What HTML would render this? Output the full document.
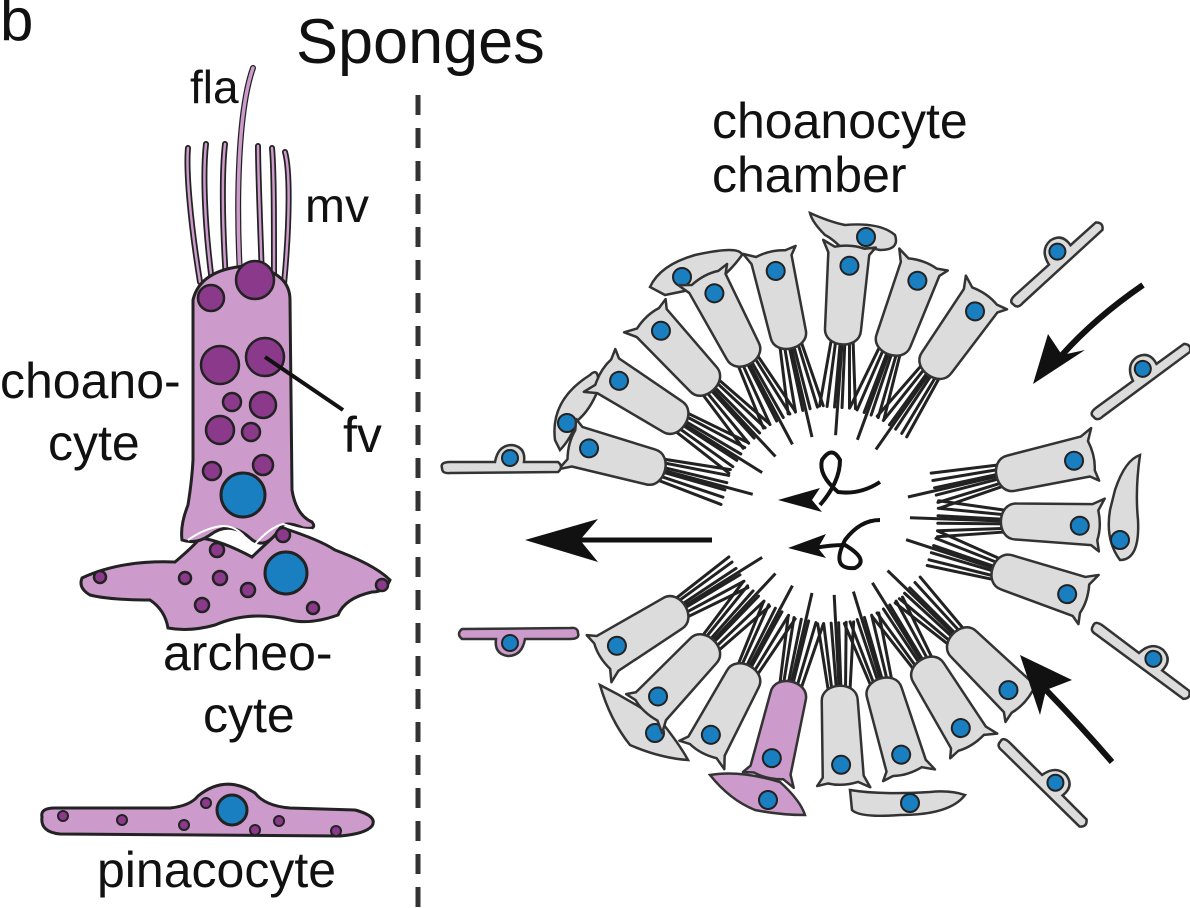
<!DOCTYPE html>
<html><head><meta charset="utf-8"><style>
html,body{margin:0;padding:0;background:#fff;}
svg{display:block;}
text{font-family:"Liberation Sans",sans-serif;fill:#111;}
</style></head><body>
<svg id="s" width="1190" height="908" viewBox="0 0 1190 908">
<text x="0" y="40" font-size="60">b</text>
<text x="296" y="63" font-size="63">Sponges</text>
<line x1="418" y1="95" x2="418" y2="908" stroke="#333" stroke-width="5" stroke-dasharray="20,13"/>

<g>
 <g stroke-linecap="round" fill="none">
  <g stroke="#222" stroke-width="6">
   <path d="M200,282 C190,220 186,170 188,148"/><path d="M212,282 C204,220 203,170 206,144"/><path d="M226,280 C222,220 222,170 225,144"/>
   <path d="M262,278 C260,220 258,170 258,146"/><path d="M274,280 C274,220 274,170 272,148"/><path d="M284,284 C290,220 290,170 285,152"/>
   <path d="M240,275 C236,200 238,110 253,68"/>
  </g>
  <g stroke="#cc9acb" stroke-width="2.5">
   <path d="M200,282 C190,220 186,170 188,148"/><path d="M212,282 C204,220 203,170 206,144"/><path d="M226,280 C222,220 222,170 225,144"/>
   <path d="M262,278 C260,220 258,170 258,146"/><path d="M274,280 C274,220 274,170 272,148"/><path d="M284,284 C290,220 290,170 285,152"/>
  </g>
  <path d="M240,275 C236,200 238,110 253,68" stroke="#cc9acb" stroke-width="3.5"/>
 </g>
 <path d="M82,578 Q120,560 175,562 Q195,545 200,538 Q220,540 252,557 Q270,540 283,528 Q320,540 335,550 Q375,565 390,580 Q385,592 372,592 Q345,598 338,615 Q310,625 290,620 Q250,610 215,625 Q190,632 168,628 Q165,610 150,600 Q110,600 90,595 Q78,588 82,578Z" fill="#cc9acb" stroke="#222" stroke-width="3"/>
 <path d="M193,300 Q200,270 245,266 Q290,270 290,300 L292,490 Q296,515 312,522 Q318,530 303,528 Q285,520 280,528 Q265,552 250,538 Q230,520 210,535 Q196,545 182,540 Q180,525 188,505 Q192,480 193,460Z" fill="#cc9acb" stroke="#222" stroke-width="3"/>
 <path d="M188,540 Q205,528 222,526 Q240,525 252,548 Q268,528 283,524 Q300,530 312,530" fill="none" stroke="#fff" stroke-width="2"/>
 <g fill="#8b3a8b" stroke="#222" stroke-width="2.5">
  <circle cx="255" cy="280" r="19"/><circle cx="211" cy="298" r="13"/><circle cx="220" cy="365" r="19"/><circle cx="265" cy="357" r="19"/>
  <circle cx="232" cy="402" r="9"/><circle cx="263" cy="405" r="13"/><circle cx="220" cy="430" r="14"/><circle cx="251" cy="432" r="9"/>
  <circle cx="212" cy="471" r="9"/><circle cx="263" cy="465" r="10"/>
  <circle cx="283" cy="535" r="7"/><circle cx="217" cy="550" r="7"/><circle cx="185" cy="578" r="6"/><circle cx="220" cy="578" r="7"/>
  <circle cx="248" cy="590" r="7"/><circle cx="202" cy="605" r="7"/><circle cx="313" cy="608" r="6"/><circle cx="100" cy="577" r="6"/><circle cx="382" cy="585" r="6"/>
 </g>
 <circle cx="243" cy="495" r="22" fill="#1a7fc1" stroke="#222" stroke-width="3"/>
 <circle cx="286" cy="573" r="21" fill="#1a7fc1" stroke="#222" stroke-width="3"/>
 <line x1="265" y1="357" x2="343" y2="410" stroke="#111" stroke-width="4"/>
 <path d="M42,817 Q40,808 55,808 L170,808 Q190,806 198,796 Q225,774 255,793 Q265,806 290,808 L355,810 Q378,816 372,826 Q365,834 340,836 L60,834 Q40,832 42,817Z" fill="#cc9acb" stroke="#222" stroke-width="3"/>
 <g fill="#8b3a8b" stroke="#222" stroke-width="2"><circle cx="63" cy="816" r="5"/><circle cx="122" cy="820" r="5"/><circle cx="184" cy="825" r="5"/><circle cx="206" cy="803" r="5"/><circle cx="255" cy="830" r="5"/><circle cx="279" cy="821" r="5"/><circle cx="336" cy="831" r="5"/></g>
 <circle cx="232" cy="810" r="15" fill="#1a7fc1" stroke="#222" stroke-width="3"/>
</g>

<text x="190" y="103" font-size="46">fla</text>
<text x="305" y="222" font-size="48">mv</text>
<text x="0" y="398" font-size="50">choano-</text>
<text x="48" y="460" font-size="50">cyte</text>
<text x="343" y="452" font-size="50">fv</text>
<text x="163" y="670" font-size="50">archeo-</text>
<text x="203" y="732" font-size="50">cyte</text>
<text x="97" y="887" font-size="50">pinacocyte</text>
<text x="712" y="138" font-size="50">choanocyte</text>
<text x="712" y="192" font-size="50">chamber</text>

<g id="extras" fill="#dcdcdc" stroke="#333" stroke-width="2.5">
 <path d="M810,213 Q830,222 845,225 Q880,222 895,235 Q900,250 880,250 Q860,245 848,255 Q835,240 825,235 Q812,222 810,213Z"/>
 <path d="M650,287 Q660,265 695,255 Q740,245 742,255 Q730,272 712,285 Q690,290 665,295 Z"/>
 <path d="M555,440 Q550,400 590,375 Q600,365 598,390 Q590,410 578,420 Q570,440 560,450Z"/>
 <path d="M1115,490 Q1125,460 1140,455 Q1135,490 1138,520 Q1140,560 1120,560 Q1105,540 1110,510Z"/>
 <path d="M600,685 Q630,700 660,720 Q680,745 688,760 Q660,758 630,745 Q610,720 600,685Z"/>
 <path d="M710,775 Q740,770 780,782 Q800,800 805,815 Q780,815 755,810 Q730,800 710,775Z" fill="#cc9acb"/>
 <path d="M850,790 Q880,795 930,792 Q950,790 965,795 Q950,815 900,815 Q860,818 852,810Z"/>
</g>
<g fill="#1a7fc1" stroke="#222" stroke-width="2">
 <circle cx="866" cy="237" r="9"/><circle cx="682" cy="277" r="9"/><circle cx="567" cy="423" r="9"/><circle cx="1120" cy="540" r="9"/>
 <circle cx="655" cy="733" r="9"/><circle cx="768" cy="800" r="9"/><circle cx="910" cy="803" r="9"/>
</g>

<g id="chamber"></g>

<g fill="#111" stroke="none">
 <path d="M1143,285 Q1095,318 1062,355" fill="none" stroke="#111" stroke-width="6"/>
 <polygon points="1033,384 1048,334 1062,355 1085,350"/>
 <path d="M1112,762 Q1080,725 1046,690" fill="none" stroke="#111" stroke-width="6"/>
 <polygon points="1020,655 1072,680 1046,690 1040,715"/>
 <line x1="712" y1="540" x2="570" y2="540" stroke="#111" stroke-width="5"/>
 <polygon points="525,540 598,519 580,540 598,562"/>
 <path d="M880,482 Q860,495 838,492 Q818,475 822,460 Q832,445 840,460 Q840,482 820,505" fill="none" stroke="#111" stroke-width="4"/>
 <polygon points="778,500 820,488 812,500 822,512"/>
 <path d="M880,520 Q860,520 845,540 Q830,570 855,568 Q870,560 845,545 Q830,545 815,548" fill="none" stroke="#111" stroke-width="4"/>
 <polygon points="788,548 826,534 818,548 826,558"/>
</g>
</svg>
<script>
var topAngles=[195,212,227,242,257,274,290,305];
var rightAngles=[-13,2,18];
var bottomAngles=[44,58,73,87,103,118,133,148];
var pinkIndex=4;
var cx=830, cy=515;
var NS="http://www.w3.org/2000/svg";
var g=document.getElementById('chamber');
function mk(tag,attrs,parent){var e=document.createElementNS(NS,tag);for(var k in attrs)e.setAttribute(k,attrs[k]);parent.appendChild(e);return e;}
function cell(a,pink){
  var c=mk('g',{transform:'translate('+cx+','+cy+') rotate('+a+')'},g);
  
  
  var off=[-12,-7,-2,3,8,12];
  for(var i=0;i<off.length;i++){
    var l=mk('line',{x1:176,y1:off[i]*0.9,x2:108,y2:off[i]*1.5,stroke:'#222','stroke-width':3,'stroke-linecap':'round'},c);
    
    
  }
  var f=mk('line',{x1:176,y1:0,x2:80,y2:0,stroke:'#222','stroke-width':3},c);
  
  
  var b=mk('path',{d:'M186,-18 C166,-18 166,18 186,18 L262,21 L270,27 L268,16 Q272,2 268,-14 L274,-26 L262,-20 Z',fill:pink?'#cc9acb':'#dcdcdc',stroke:'#333','stroke-width':2.5,'stroke-linejoin':'round'},c);
  
  
  var n=mk('circle',{cx:250,cy:2,r:9,fill:'#1a7fc1',stroke:'#222','stroke-width':2},c);
  
  
}
topAngles.forEach(function(a){cell(a,false);});
rightAngles.forEach(function(a){cell(a,false);});
bottomAngles.forEach(function(a,i){cell(a,i===pinkIndex);});

var pinacocytes=[
 {x:1056,y:265,a:-42},{x:1140,y:382,a:-36},{x:500,y:467,a:0},
 {x:520,y:634,a:180,pk:true},{x:1140,y:660,a:37},{x:1042,y:782,a:45}
];
pinacocytes.forEach(function(p){
  var c=mk('g',{transform:'translate('+p.x+','+p.y+') rotate('+p.a+')'},g);
  
  
  mk('path',{d:'M-58,1 Q-60,-5 -50,-5 L-5,-5 Q-2,-22 12,-22 Q26,-20 24,-5 L58,-5 Q64,0 58,5 L-50,6 Q-58,7 -58,1Z',fill:p.pk?'#cc9acb':'#dcdcdc',stroke:'#333','stroke-width':2.5},c);
  mk('circle',{cx:10,cy:-9,r:8,fill:'#1a7fc1',stroke:'#222','stroke-width':2},c);
});
</script>
</body></html>
